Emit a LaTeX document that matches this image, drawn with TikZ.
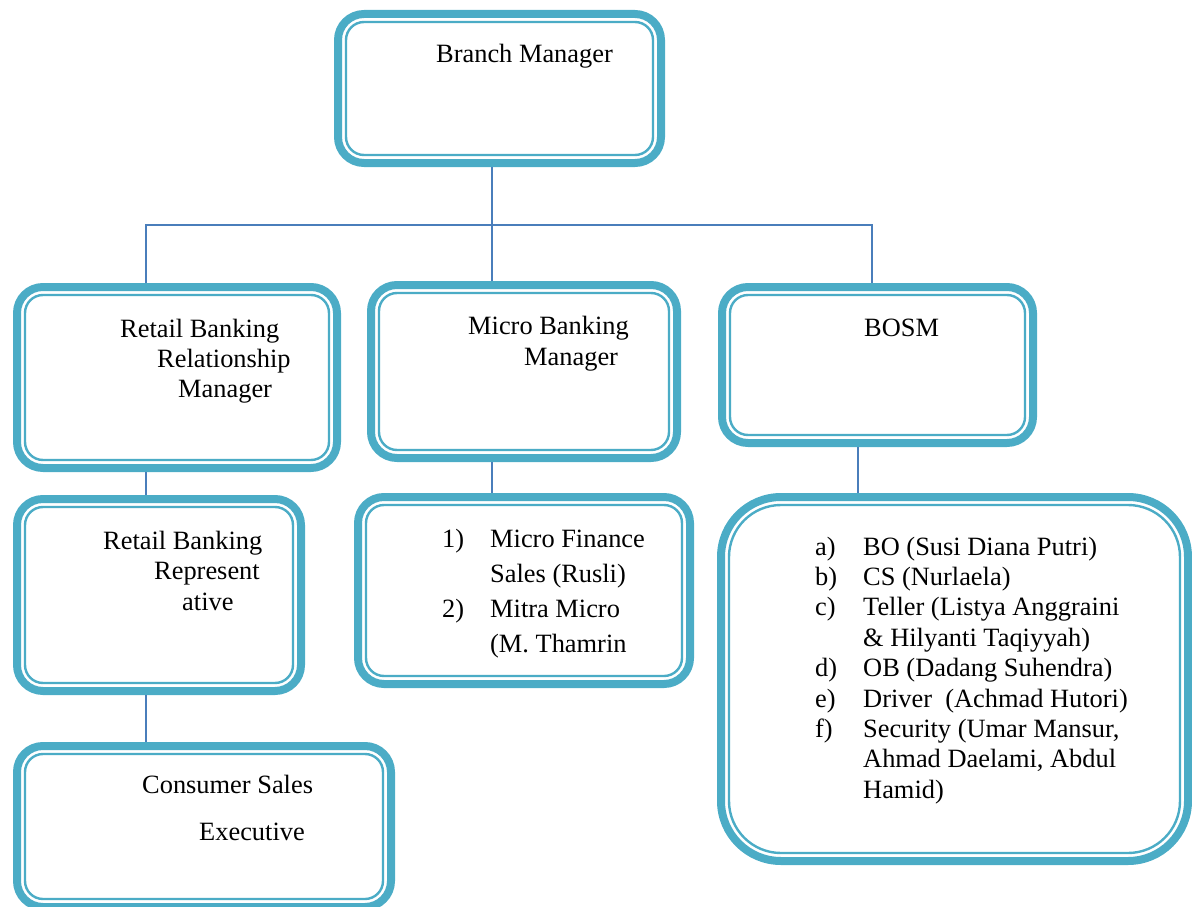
\documentclass[tikz,border=0pt]{standalone}
\usepackage{fontspec}
\setmainfont{Liberation Serif}
\usetikzlibrary{calc}
\definecolor{boxteal}{HTML}{4BACC6}
\definecolor{linkblue}{HTML}{4A7EBB}
\newcommand{\boxlines}[2]{\begin{tabular}[t]{#1}#2\end{tabular}}

\begin{document}
\begin{tikzpicture}[x=1pt,y=-1pt,
    obox/.style={draw=boxteal,line width=8pt,outer sep=4pt,inner sep=0pt,fill=white,rounded corners=26pt},
    ring/.style={draw=boxteal,line width=2.4pt,rounded corners=18pt},
    txt/.style={anchor=base west,inner sep=0pt,font=\fontsize{26.4pt}{#1}\selectfont},
    txt/.default=30.4pt,
    link/.style={draw=linkblue,line width=1.5pt}]
    \useasboundingbox (0,0) rectangle (1192,907);

    % draw the boxes
    \node[obox,minimum width=323pt,minimum height=149pt] (bm)    at (499.5,88.5) {};
    \node[obox,minimum width=320pt,minimum height=181pt] (rbrm)  at (177,377.5)  {};
    \node[obox,minimum width=306pt,minimum height=173pt] (mbm)   at (524,371.5)  {};
    \node[obox,minimum width=311pt,minimum height=156pt] (bosm)  at (877.5,365)  {};
    \node[obox,minimum width=284pt,minimum height=192pt] (rbr)   at (159,595)    {};
    \node[obox,minimum width=332pt,minimum height=187pt] (mlist) at (524,590.5)  {};
    \node[obox,minimum width=374pt,minimum height=161pt] (cse)   at (204,826.5)  {};
    \node[obox,rounded corners=60pt,minimum width=467pt,minimum height=364pt] (blist) at (954.5,679) {};

    % thin line inside each box
    \foreach \n in {bm,rbrm,mbm,bosm,rbr,mlist,cse}
        \draw[ring] ($(\n.north west)+(12,12)$) rectangle ($(\n.south east)+(-12,-12)$);
    \draw[ring,rounded corners=52pt] ($(blist.north west)+(12,12)$) rectangle ($(blist.south east)+(-12,-12)$);

    % draw the connectors
    \coordinate (busL) at (146,225);
    \coordinate (busM) at (492,225);
    \coordinate (busR) at (872,225);
    \coordinate (drop) at (858,0);
    \draw[link] (bm.south -| busM) -- (mbm.north -| busM);
    \draw[link] (rbrm.north -| busL) -- (busL) -- (busR) -- (bosm.north -| busR);
    \draw[link] (rbrm.south -| busL) -- (rbr.north -| busL);
    \draw[link] (rbr.south -| busL) -- (cse.north -| busL);
    \draw[link] (mbm.south -| busM) -- (mlist.north -| busM);
    \draw[link] (bosm.south -| drop) -- (blist.north -| drop);

    % the texts
    \node[txt] (t-bm) at (436,63) {Branch Manager};
    \node[txt=30pt] (t-rbrm) at (120,337)
        {\boxlines{@{}l@{}}{Retail Banking\\ \hspace*{37pt}Relationship\\ \hspace*{58pt}Manager}};
    \node[txt=31pt] (t-mbm) at (468,334)
        {\boxlines{@{}l@{}}{Micro Banking\\ \hspace*{56pt}Manager}};
    \node[txt] (t-bosm) at (864,336) {BOSM};
    \node[txt=30.5pt] (t-rbr) at (103,549)
        {\boxlines{@{}l@{}}{Retail Banking\\ \hspace*{51pt}Represent\\ \hspace*{79pt}ative}};
    \node[txt=35.3pt] (t-mlist) at (442,547)
        {\boxlines{@{}p{48pt}@{}l@{}}{1) & Micro Finance\\ & Sales (Rusli)\\ 2) & Mitra Micro\\ & (M. Thamrin}};
    \node[txt=47pt] (t-cse) at (142,793)
        {\boxlines{@{}l@{}}{Consumer Sales\\ \hspace*{57pt}Executive}};
    \node[txt=30.4pt] (t-blist) at (815,555)
        {\boxlines{@{}p{48pt}@{}l@{}}{a) & BO (Susi Diana Putri)\\ b) & CS (Nurlaela)\\
         c) & Teller (Listya Anggraini\\ & \& Hilyanti Taqiyyah)\\ d) & OB (Dadang Suhendra)\\
         e) & Driver\ \ (Achmad Hutori)\\ f) & Security (Umar Mansur,\\ & Ahmad Daelami, Abdul\\ & Hamid)}};
\end{tikzpicture}
\end{document}
